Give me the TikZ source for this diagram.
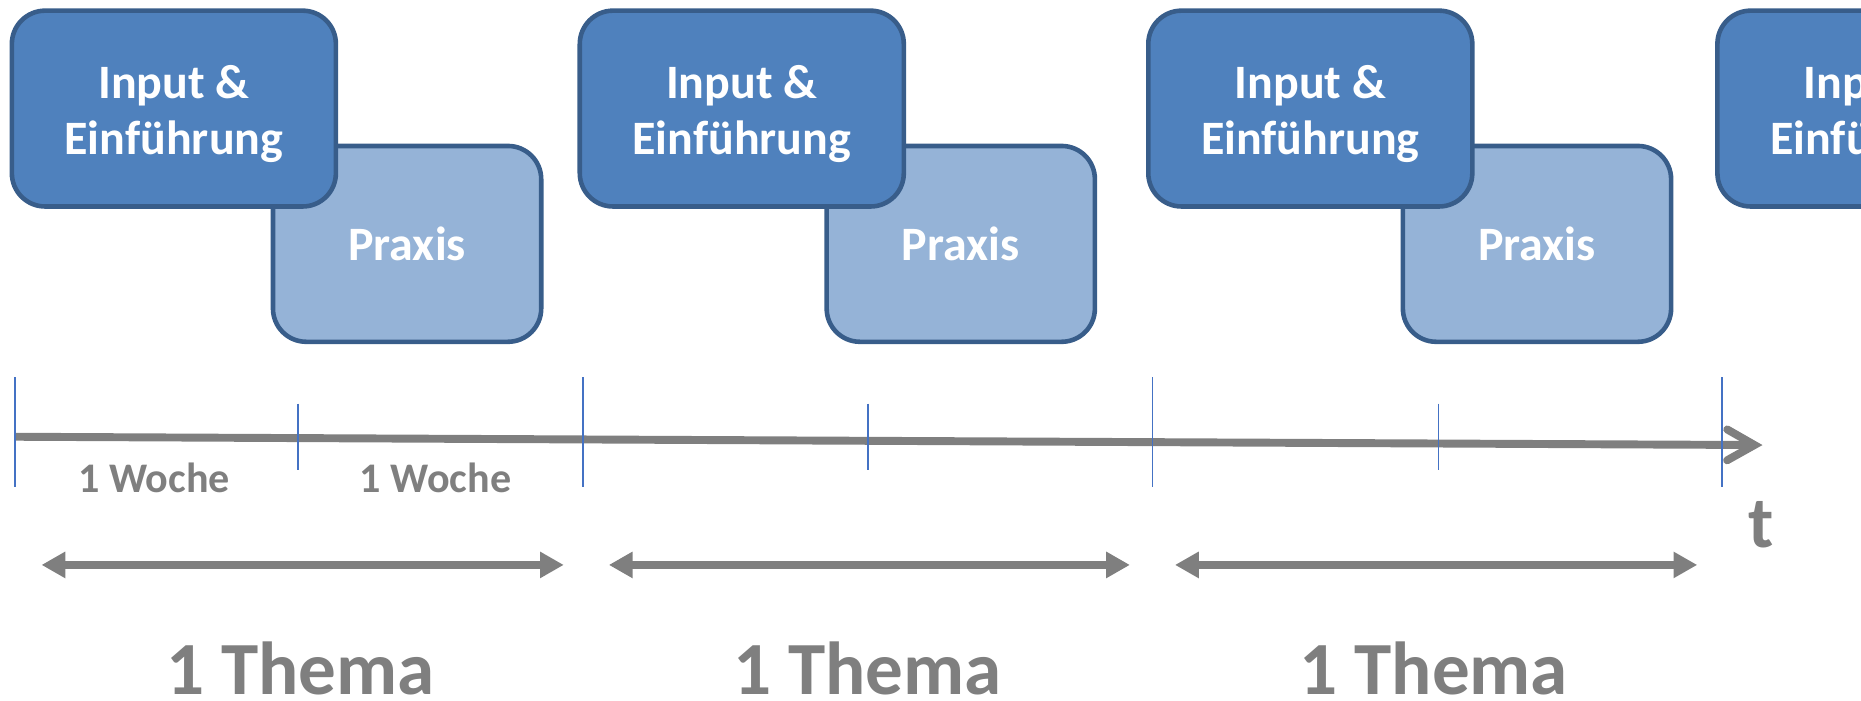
\documentclass[tikz,border=0pt]{standalone}
\usepackage{fontspec}
\setmainfont{Carlito}
\usepackage{xcolor}
\usepackage{tikz}
\usetikzlibrary{arrows.meta}

\definecolor{boxblue}{HTML}{4F81BD}
\definecolor{lightblue}{HTML}{95B3D7}
\definecolor{rimblue}{HTML}{385D8A}
\definecolor{tickblue}{HTML}{4472C4}
\definecolor{axisgray}{HTML}{7F7F7F}
\newcommand{\inputtext}{\rule{0pt}{10.6pt}Input \&\\Einführung}

\begin{document}
\begin{tikzpicture}[
    bluebox/.style={draw=rimblue,line width=1.1pt,rounded corners=0.28cm,minimum height=1.65cm,inner sep=0pt,text=white,align=center,font=\fontsize{11.5}{13.5}\selectfont\bfseries},
    inputbox/.style={bluebox,fill=boxblue,minimum width=2.73cm},
    praxisbox/.style={bluebox,fill=lightblue,minimum width=2.26cm},
    bigtick/.style={draw=tickblue,line width=0.45pt},
    timeaxis/.style={draw=axisgray,line width=1.9pt,-{Straight Barb[length=2.3mm,width=2.6mm,line cap=round]}},
    span/.style={draw=axisgray,line width=1.85pt,{Triangle[length=2mm,width=2.1mm]}-{Triangle[length=2mm,width=2.1mm]}},
    weeklabel/.style={text=axisgray,inner sep=0pt,font=\fontsize{10.1}{12}\selectfont\bfseries},
    themelabel/.style={text=axisgray,inner sep=0pt,font=\fontsize{18}{21}\selectfont\bfseries},
    tlabel/.style={text=axisgray,inner sep=0pt,font=\fontsize{17.5}{20}\selectfont\bfseries}]
                    \useasboundingbox (0,0) rectangle (15.68,5.90);
                    \clip (0,0) rectangle (15.68,5.90);

                    % Praxis behind, Input on top
                    \node[praxisbox] (P1) at (3.43,3.845) {Praxis};
                    \node[praxisbox] (P2) at (8.095,3.845) {Praxis};
                    \node[praxisbox] (P3) at (12.95,3.845) {Praxis};
                    \node[inputbox] (I1) at (1.465,4.985) {\inputtext};
                    \node[inputbox] (I2) at (6.25,4.985) {\inputtext};
                    \node[inputbox] (I3) at (11.04,4.985) {\inputtext};
                    \node[inputbox] (I4) at (15.835,4.985) {\inputtext};

                    % time axis
                    \coordinate (T0) at (0.13,2.22);
                    \coordinate (T1) at (14.85,2.15);
                    \draw[timeaxis] (T0) -- (T1);
                    \draw[bigtick] (0.13,2.72) -- (0.13,1.80);
                    \draw[bigtick] (4.91,2.72) -- (4.91,1.80);
                    \draw[bigtick] (9.71,2.72) -- (9.71,1.80);
                    \draw[bigtick] (14.51,2.72) -- (14.51,1.80);
                    \draw[bigtick] (2.51,2.50) -- (2.51,1.94);
                    \draw[bigtick] (7.31,2.50) -- (7.31,1.94);
                    \draw[bigtick] (12.12,2.50) -- (12.12,1.94);

                    \node[weeklabel] (W1) at (1.30,1.87) {1 Woche};
                    \node[weeklabel] (W2) at (3.67,1.87) {1 Woche};
                    \node[tlabel] (t) at (14.84,1.48) {t};

                    % one topic each
                    \coordinate (A1) at (0.35,1.14);
                    \coordinate (B1) at (4.75,1.14);
                    \coordinate (A2) at (5.13,1.14);
                    \coordinate (B2) at (9.52,1.14);
                    \coordinate (A3) at (9.90,1.14);
                    \coordinate (B3) at (14.30,1.14);
                    \draw[span] (A1) -- (B1);
                    \draw[span] (A2) -- (B2);
                    \draw[span] (A3) -- (B3);

                    \node[themelabel] (H1) at (2.53,0.27) {1 Thema};
                    \node[themelabel] (H2) at (7.31,0.27) {1 Thema};
                    \node[themelabel] (H3) at (12.08,0.27) {1 Thema};
                 \end{tikzpicture}
\end{document}
